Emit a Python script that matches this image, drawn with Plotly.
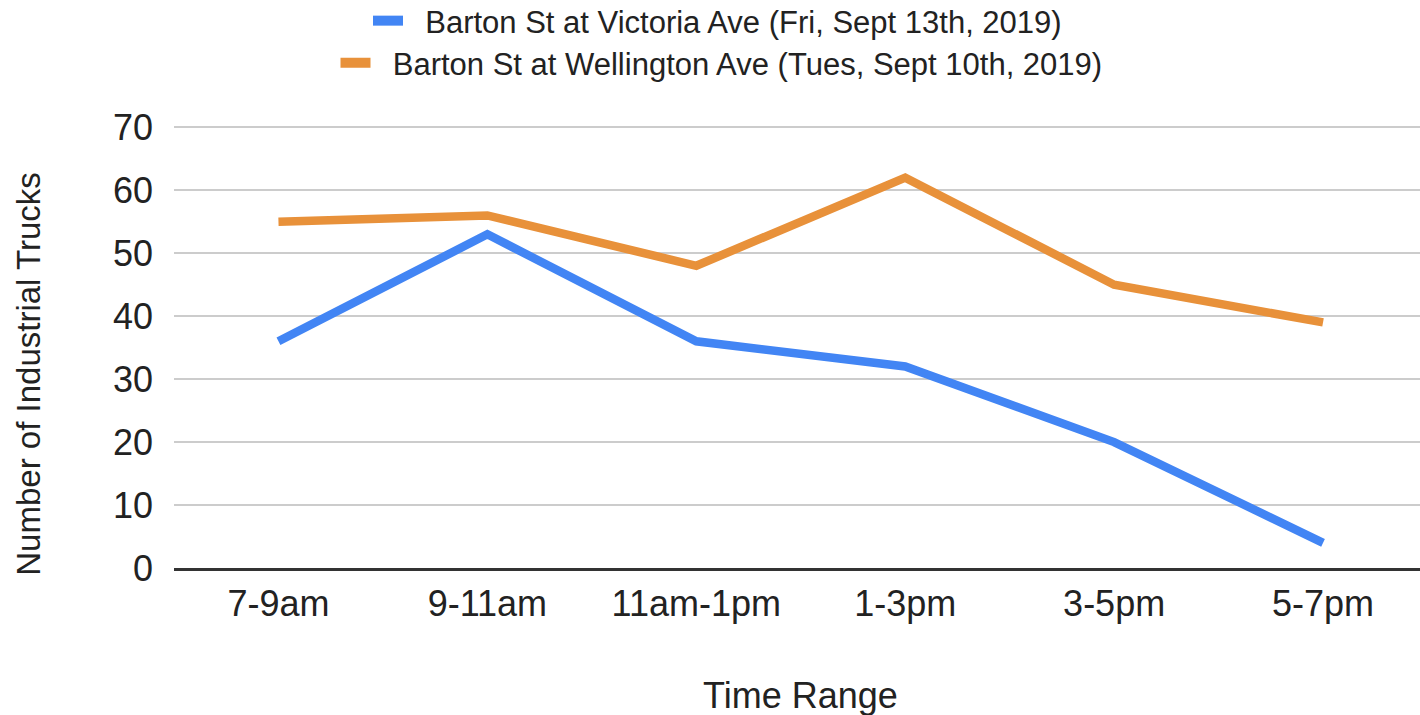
import plotly.graph_objects as go

categories = ["7-9am", "9-11am", "11am-1pm", "1-3pm", "3-5pm", "5-7pm"]
victoria = [36, 53, 36, 32, 20, 4]
wellington = [55, 56, 48, 62, 45, 39]
series_names = ["Barton St at Victoria Ave (Fri, Sept 13th, 2019)",
                "Barton St at Wellington Ave (Tues, Sept 10th, 2019)"]
y_ticks = [0, 10, 20, 30, 40, 50, 60, 70]
x_title = "Time Range"
y_title = "Number of Industrial Trucks"

BLUE = "#4285F4"
ORANGE = "#E8913A"
FONT = "Liberation Sans, Arial, sans-serif"
TXT = "#222222"
NBSP = "\u00a0\u00a0"

fig = go.Figure()
fig.add_trace(go.Scatter(x=categories, y=victoria, mode="lines",
                         line=dict(color=BLUE, width=8.5), showlegend=False,
                         name=series_names[0]))
fig.add_trace(go.Scatter(x=categories, y=wellington, mode="lines",
                         line=dict(color=ORANGE, width=8.5), showlegend=False,
                         name=series_names[1]))
# legend entries
fig.add_trace(go.Scatter(x=[None], y=[None], mode="lines",
                         line=dict(color=BLUE, width=12), name=NBSP + series_names[0],
                         legend="legend"))
fig.add_trace(go.Scatter(x=[None], y=[None], mode="lines",
                         line=dict(color=ORANGE, width=12), name=NBSP + series_names[1],
                         legend="legend2"))

W, H = 1420, 715
px_per = (567.7 - 127.3) / 70.0
ymax = 70.2
left = 173.5
right_fig = 1420
bottom_fig = 567.7
top_fig = bottom_fig - ymax * px_per
span = (right_fig - left) / 209.0
plot_w = right_fig - left
plot_h = bottom_fig - top_fig

def px_to_paper(xp, yp):
    return (xp - left) / plot_w, (bottom_fig - yp) / plot_h

yt_x, yt_y = px_to_paper(28, 374)
xt_x, xt_y = px_to_paper(800, 695)

fig.update_layout(
    width=W, height=H,
    margin=dict(l=left, r=W - right_fig, t=top_fig, b=H - bottom_fig, pad=0, autoexpand=False),
    paper_bgcolor="white", plot_bgcolor="white",
    font=dict(family=FONT, color=TXT),
    legend=dict(xref="container", yref="container", x=717.5 / W, y=1 - 21 / H,
                xanchor="center", yanchor="middle", bgcolor="rgba(0,0,0,0)",
                font=dict(size=31, family=FONT, color=TXT)),
    legend2=dict(xref="container", yref="container", x=721.5 / W, y=1 - 63 / H,
                 xanchor="center", yanchor="middle", bgcolor="rgba(0,0,0,0)",
                 font=dict(size=31, family=FONT, color=TXT)),
    xaxis=dict(type="category", categoryorder="array", categoryarray=categories,
               range=[-0.5, -0.5 + span], showgrid=False, zeroline=False,
               showline=True, linecolor="#333333", linewidth=2.5,
               tickfont=dict(size=36, family=FONT, color=TXT),
               ticklabelstandoff=2, automargin=False),
    yaxis=dict(range=[0, ymax], tickvals=y_ticks, showgrid=True, gridcolor="#cccccc",
               gridwidth=2, zeroline=False, showline=False,
               tickfont=dict(size=36, family=FONT, color=TXT),
               ticklabelstandoff=20, automargin=False),
    annotations=[
        dict(text=y_title, textangle=-90, xref="paper", yref="paper", x=yt_x, y=yt_y,
             xanchor="center", yanchor="middle", showarrow=False,
             font=dict(size=33, family=FONT, color=TXT)),
        dict(text=x_title, xref="paper", yref="paper", x=xt_x, y=xt_y,
             xanchor="center", yanchor="middle", showarrow=False,
             font=dict(size=36, family=FONT, color=TXT)),
    ],
)

fig.write_html("out.html", config={"displayModeBar": False},
               post_script="document.body.style.margin='0';document.body.style.overflow='hidden';")
